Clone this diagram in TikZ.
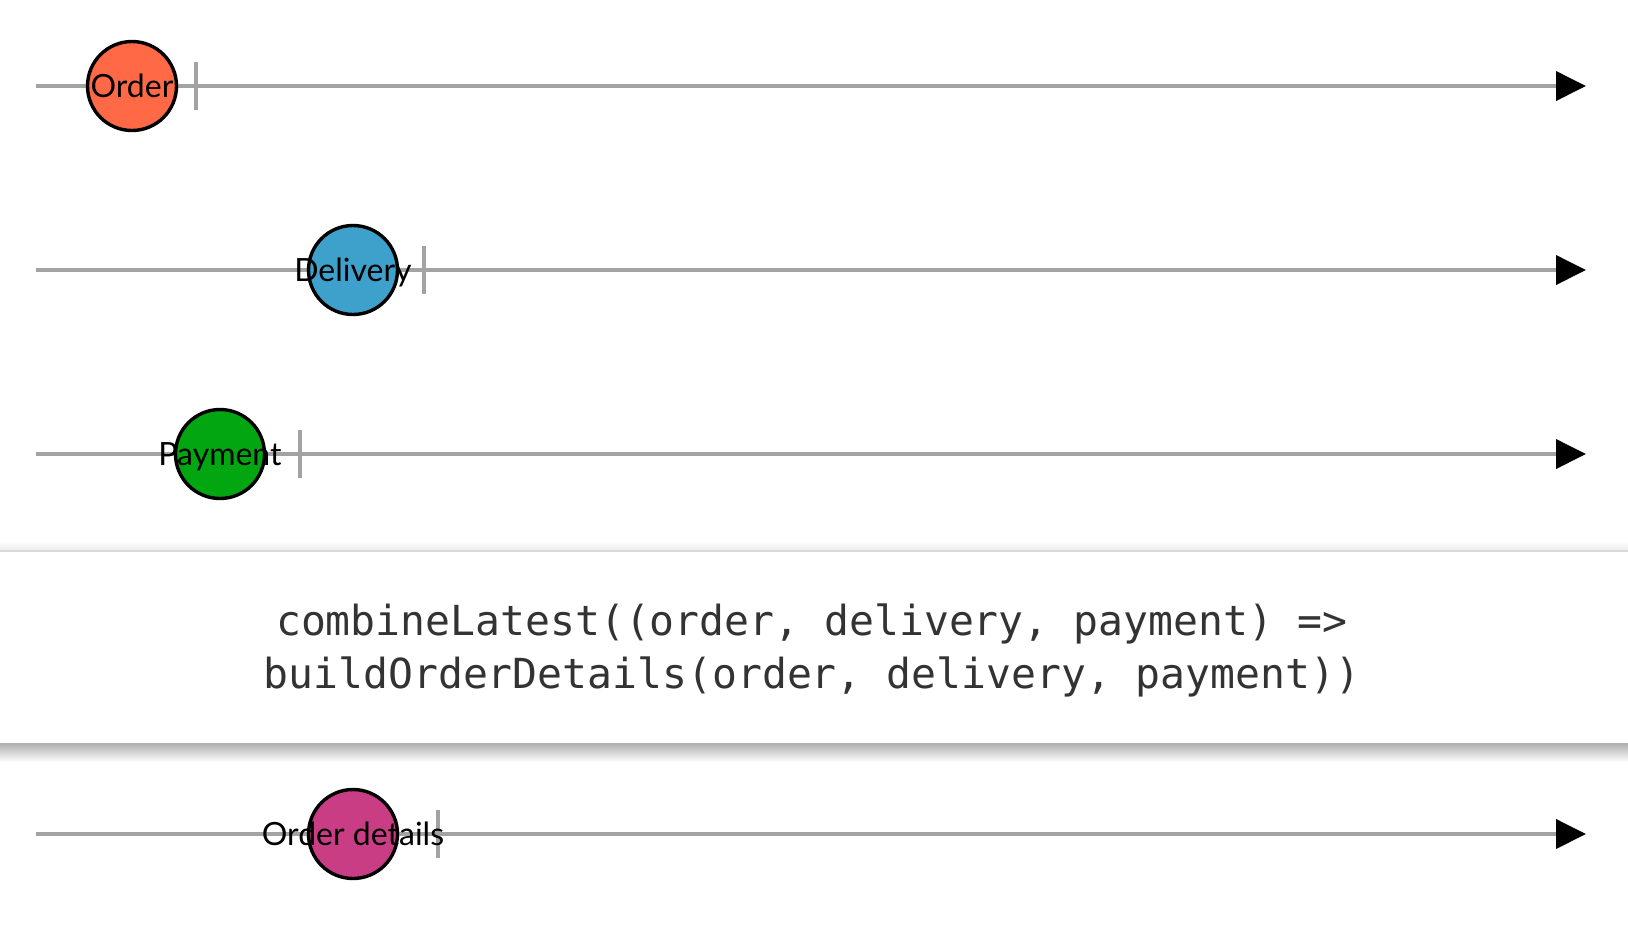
\documentclass[tikz,border=0pt]{standalone}
\usepackage{fontspec}
\setmainfont{Lato}
\newfontfamily\codefont{DejaVu Sans Mono}
\usepackage{tikz}
\usetikzlibrary{arrows.meta,positioning,calc}
\usepackage{xcolor}
\definecolor{lanegray}{HTML}{A3A3A3}
\definecolor{orderc}{HTML}{FF6946}
\definecolor{deliveryc}{HTML}{3EA1CB}
\definecolor{paymentc}{HTML}{02A611}
\definecolor{detailsc}{HTML}{C93D85}
\definecolor{codegray}{HTML}{333333}

\tikzset{
    timeline/.style={line width=1.9pt, lanegray, -{Triangle[length=15pt,width=14.5pt,black]}},
    endtick/.style={fill=lanegray, inner sep=0pt, minimum width=1.8pt, minimum height=24pt},
    marble/.style={circle, draw=black, line width=1.7pt, inner sep=0pt, minimum size=44.5pt},
    marbletext/.style={anchor=base, inner sep=0pt, font=\fontsize{16pt}{19pt}\selectfont},
    codetext/.style={anchor=base, inner sep=0pt, text=codegray, font=\codefont\fontsize{20.7pt}{26pt}\selectfont}
}

\begin{document}
\begin{tikzpicture}[x=0.5pt, y=-0.5pt]
    \useasboundingbox (0,0) rectangle (1628,928);

    % Order
    \coordinate (s1) at (36,86);
    \coordinate (e1) at (1586,86);
    \draw[timeline] (s1) -- (e1);
    \node[endtick] (t1) at (196,86) {};
    \node[marble, fill=orderc] (m1) at (132,86) {};
    \node[marbletext] (l1) at (132,97.5) {Order};

    % Delivery
    \coordinate (s2) at (36,270);
    \coordinate (e2) at (1586,270);
    \draw[timeline] (s2) -- (e2);
    \node[endtick] (t2) at (424,270) {};
    \node[marble, fill=deliveryc] (m2) at (353,270) {};
    \node[marbletext] (l2) at (353,281.5) {Delivery};

    % Payment
    \coordinate (s3) at (36,454);
    \coordinate (e3) at (1586,454);
    \draw[timeline] (s3) -- (e3);
    \node[endtick] (t3) at (300,454) {};
    \node[marble, fill=paymentc] (m3) at (220,454) {};
    \node[marbletext] (l3) at (220,465.5) {Payment};

    % Operator box
    \shade[top color=white, bottom color=black!8] (0,541) rectangle (1628,551);
    \shade[top color=black!30, bottom color=white] (0,744) rectangle (1628,762);
    \fill[white] (0,551) rectangle (1628,744);
    \draw[black!15, line width=1pt] (0,551) -- (1628,551);
    \draw[black!30, line width=1pt] (0,744) -- (1628,744);
    \node[codetext] (c1) at (812,635) {combineLatest((order, delivery, payment) =>};
    \node[codetext] (c2) at (812,688) {buildOrderDetails(order, delivery, payment))};

    % Result
    \coordinate (s4) at (36,834);
    \coordinate (e4) at (1586,834);
    \draw[timeline] (s4) -- (e4);
    \node[endtick] (t4) at (438,834) {};
    \node[marble, fill=detailsc] (m4) at (353,834) {};
    \node[marbletext] (l4) at (353,845.5) {Order details};
\end{tikzpicture}
\end{document}
